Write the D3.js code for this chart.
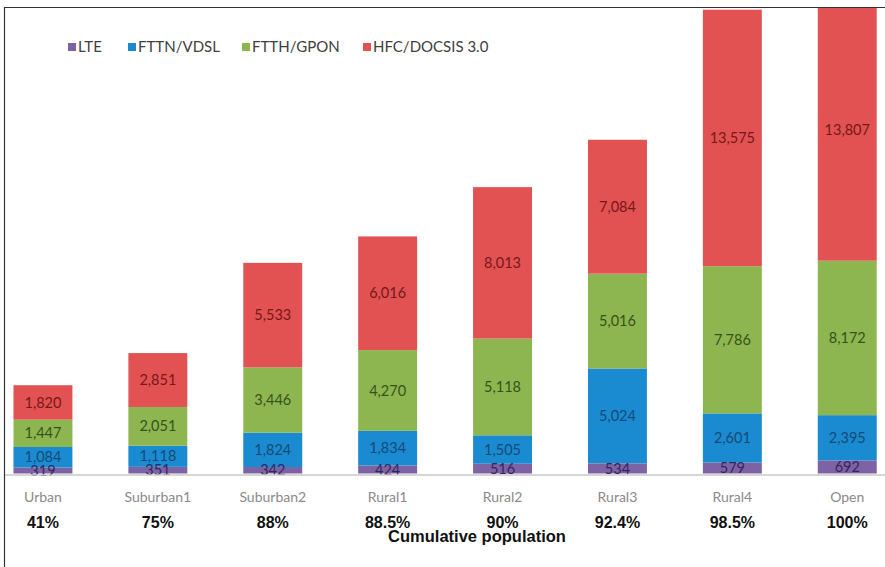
<!DOCTYPE html>
<html>
<head>
<meta charset="utf-8">
<script src="https://cdn.jsdelivr.net/npm/d3@7"></script>
<style>
  body { margin: 0; background: #fff; }
  svg { display: block; }
</style>
</head>
<body>
<div id="chart"></div>
<script>
// Data
const categories = ["Urban", "Suburban1", "Suburban2", "Rural1", "Rural2", "Rural3", "Rural4", "Open"];
const cumulative = ["41%", "75%", "88%", "88.5%", "90%", "92.4%", "98.5%", "100%"];
const seriesNames = ["LTE", "FTTN/VDSL", "FTTH/GPON", "HFC/DOCSIS 3.0"];
const lte = [319, 351, 342, 424, 516, 534, 579, 692];
const fttn = [1084, 1118, 1824, 1834, 1505, 5024, 2601, 2395];
const ftth = [1447, 2051, 3446, 4270, 5118, 5016, 7786, 8172];
const hfc = [1820, 2851, 5533, 6016, 8013, 7084, 13575, 13807];

const colors = ["#7d63a3", "#1a8bd0", "#8db650", "#e25252"];
const labelColors = ["#35245e", "#154a77", "#36521a", "#761818"];

const W = 885, H = 567;
const baseY = 473.5;

const rows = categories.map((c, i) => ({
  cat: c, LTE: lte[i], "FTTN/VDSL": fttn[i], "FTTH/GPON": ftth[i], "HFC/DOCSIS 3.0": hfc[i]
}));
const stacked = d3.stack().keys(seriesNames)(rows);

const svg = d3.select("#chart").append("svg")
  .attr("width", W)
  .attr("height", H);

const x = d3.scaleBand()
  .domain(categories)
  .range([-14.5, 904.7])
  .paddingInner(0.487)
  .paddingOuter(0.2435);

const y = d3.scaleLinear()
  .domain([0, 25000])
  .range([baseY, 1]);

// plot clip (tall bars run into the frame)
svg.append("clipPath").attr("id", "plotclip")
  .append("rect")
  .attr("x", 5).attr("y", 8)
  .attr("width", W).attr("height", H);

const plot = svg.append("g").attr("clip-path", "url(#plotclip)");

// baseline
svg.append("line")
  .attr("x1", 5).attr("x2", W)
  .attr("y1", baseY + 1.5).attr("y2", baseY + 1.5)
  .attr("stroke", "#c8c8c8")
  .attr("stroke-width", 1.5);

// bars
const layers = plot.selectAll("g.layer")
  .data(stacked)
  .join("g")
  .attr("class", "layer")
  .attr("fill", (d, i) => colors[i]);

layers.selectAll("rect")
  .data(d => d)
  .join("rect")
  .attr("x", d => x(d.data.cat))
  .attr("y", d => y(d[1]))
  .attr("width", x.bandwidth())
  .attr("height", d => y(d[0]) - y(d[1]));

// value labels
const fmt = d3.format(",");
stacked.forEach((layer, i) => {
  plot.selectAll(null)
    .data(layer)
    .join("text")
    .attr("x", d => x(d.data.cat) + x.bandwidth() / 2)
    .attr("y", d => (y(d[0]) + y(d[1])) / 2)
    .attr("dy", "0.35em")
    .attr("text-anchor", "middle")
    .attr("fill", labelColors[i])
    .style("font-family", "Lato, 'Open Sans', sans-serif")
    .style("font-size", "14.5px")
    .text(d => fmt(d[1] - d[0]));
});

// category labels
svg.selectAll("text.cat")
  .data(categories)
  .join("text")
  .attr("class", "cat")
  .attr("x", d => x(d) + x.bandwidth() / 2)
  .attr("y", 497)
  .attr("dy", "0.35em")
  .attr("text-anchor", "middle")
  .attr("fill", "#8a8a8a")
  .style("font-family", "Lato, 'Open Sans', sans-serif")
  .style("font-size", "14px")
  .text(d => d);

// cumulative population row
svg.selectAll("text.cum")
  .data(cumulative)
  .join("text")
  .attr("class", "cum")
  .attr("x", (d, i) => x(categories[i]) + x.bandwidth() / 2)
  .attr("y", 522)
  .attr("dy", "0.35em")
  .attr("text-anchor", "middle")
  .attr("fill", "#111")
  .style("font-family", "'Liberation Sans', Arial, sans-serif")
  .style("font-weight", "bold")
  .style("font-size", "16px")
  .text(d => d);

svg.append("text")
  .attr("x", 477)
  .attr("y", 536)
  .attr("dy", "0.35em")
  .attr("text-anchor", "middle")
  .attr("fill", "#111")
  .style("font-family", "'Liberation Sans', Arial, sans-serif")
  .style("font-weight", "bold")
  .style("font-size", "16.5px")
  .text("Cumulative population");

// legend
const legendX = [68, 128, 242, 363];
const legend = svg.selectAll("g.legend")
  .data(seriesNames)
  .join("g")
  .attr("class", "legend")
  .attr("transform", (d, i) => `translate(${legendX[i]},47)`);

legend.append("rect")
  .attr("x", 0).attr("y", -4)
  .attr("width", 8).attr("height", 8)
  .attr("fill", (d, i) => colors[i]);

legend.append("text")
  .attr("x", 10)
  .attr("dy", "0.35em")
  .attr("fill", "#404040")
  .style("font-family", "Lato, 'Open Sans', sans-serif")
  .style("font-size", "15px")
  .text(d => d);

// frame (left and top edges)
svg.append("path")
  .attr("d", `M4.5,${H} V7.5 H${W}`)
  .attr("fill", "none")
  .attr("stroke", "#333")
  .attr("stroke-width", 1.2);
</script>
</body>
</html>
